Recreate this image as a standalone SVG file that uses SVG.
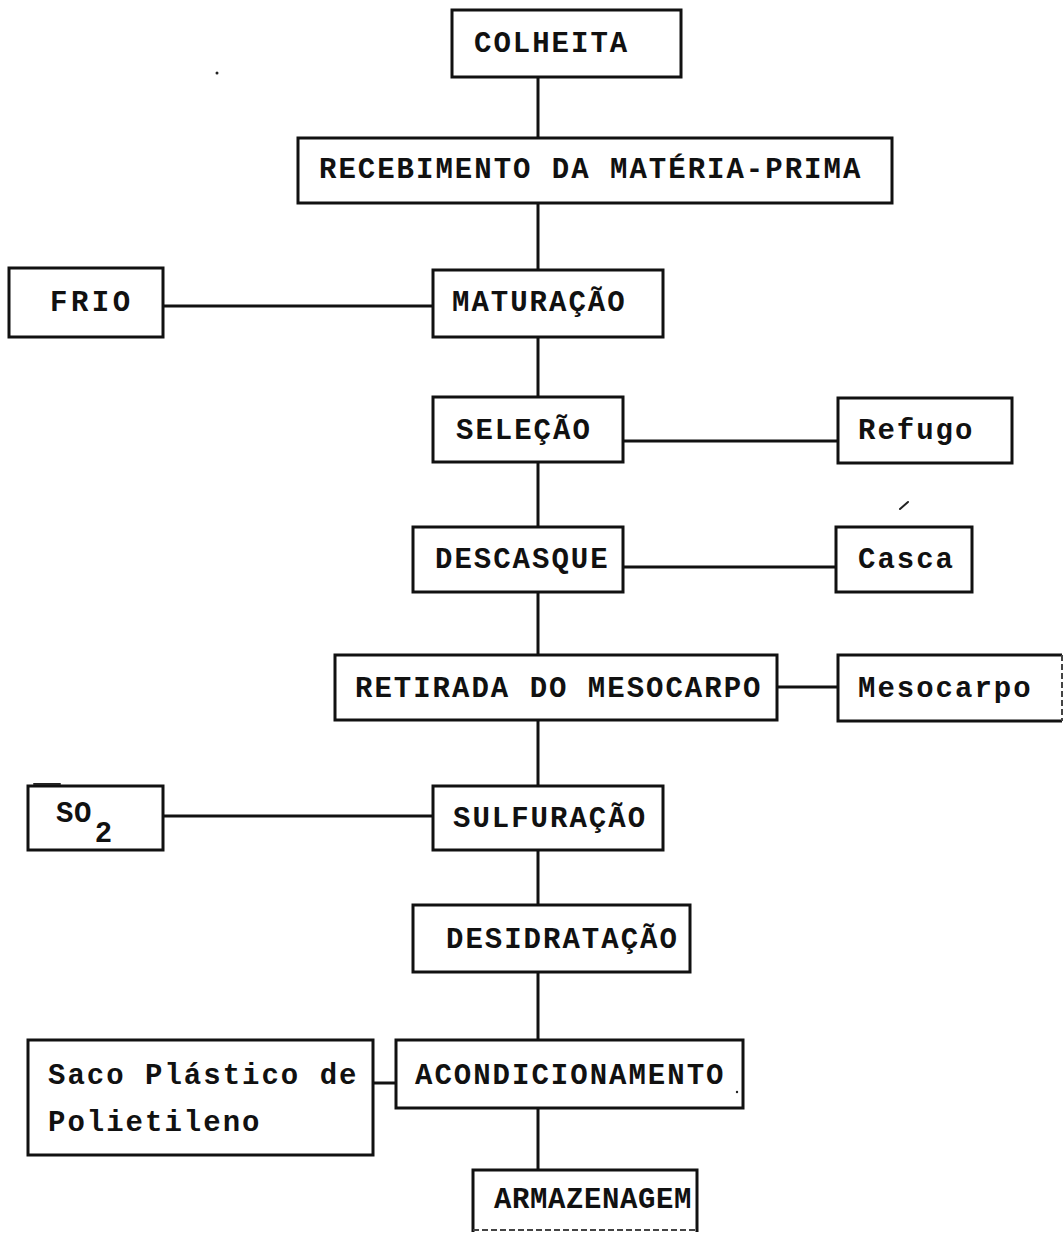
<svg xmlns="http://www.w3.org/2000/svg" width="1064" height="1234" viewBox="0 0 1064 1234">
  <style>
    .box { fill: #ffffff; stroke: #111111; stroke-width: 3; }
    .edge { fill: none; stroke: #111111; stroke-width: 3; }
    .lbl { font-family: "Liberation Mono", "DejaVu Sans Mono", monospace; font-weight: bold; font-size: 29px; letter-spacing: 2px; fill: #111111; }
    .faint { fill: none; stroke: #444444; stroke-width: 2; stroke-dasharray: 6 3; }
    .mark { fill: none; stroke: #222222; stroke-width: 2; stroke-linecap: round; }
  </style>
  <rect width="1064" height="1234" fill="#ffffff"/>

  <!-- connectors -->
  <g id="connectors">
    <path class="edge" d="M538 77 V138"/>
    <path class="edge" d="M538 203 V270"/>
    <path class="edge" d="M163 306 H433"/>
    <path class="edge" d="M538 337 V397"/>
    <path class="edge" d="M623 441 H838"/>
    <path class="edge" d="M538 462 V527"/>
    <path class="edge" d="M623 567 H836"/>
    <path class="edge" d="M538 592 V655"/>
    <path class="edge" d="M777 687 H838"/>
    <path class="edge" d="M538 720 V786"/>
    <path class="edge" d="M163 816 H433"/>
    <path class="edge" d="M538 850 V905"/>
    <path class="edge" d="M538 972 V1040"/>
    <path class="edge" d="M373 1083 H396"/>
    <path class="edge" d="M538 1108 V1170"/>
  </g>

  <g id="colheita">
    <rect class="box" x="452" y="10" width="229" height="67"/>
    <text class="lbl" x="474" y="52">COLHEITA</text>
  </g>

  <g id="recebimento">
    <rect class="box" x="298" y="138" width="594" height="65"/>
    <text class="lbl" x="319" y="178">RECEBIMENTO DA MATÉRIA-PRIMA</text>
  </g>

  <g id="frio">
    <rect class="box" x="9" y="268" width="154" height="69"/>
    <text class="lbl" x="50" y="311" style="letter-spacing:3.5px">FRIO</text>
  </g>

  <g id="maturacao">
    <rect class="box" x="433" y="270" width="230" height="67"/>
    <text class="lbl" x="452" y="311">MATURAÇÃO</text>
  </g>

  <g id="selecao">
    <rect class="box" x="433" y="397" width="190" height="65"/>
    <text class="lbl" x="456" y="439">SELEÇÃO</text>
  </g>

  <g id="refugo">
    <rect class="box" x="838" y="398" width="174" height="65"/>
    <text class="lbl" x="858" y="439">Refugo</text>
  </g>

  <g id="descasque">
    <rect class="box" x="413" y="527" width="210" height="65"/>
    <text class="lbl" x="435" y="568">DESCASQUE</text>
  </g>

  <g id="casca">
    <rect class="box" x="836" y="527" width="136" height="65"/>
    <text class="lbl" x="858" y="568">Casca</text>
  </g>

  <g id="retirada">
    <rect class="box" x="335" y="655" width="442" height="65"/>
    <text class="lbl" x="355" y="697">RETIRADA DO MESOCARPO</text>
  </g>

  <g id="mesocarpo">
    <path class="edge" d="M1062 655 H838 V721 H1062"/>
    <path class="faint" d="M1062 655 V721"/>
    <text class="lbl" x="858" y="697">Mesocarpo</text>
  </g>

  <g id="so2">
    <rect class="box" x="28" y="786" width="135" height="64"/>
    <text class="lbl" x="56" y="822" style="letter-spacing:0.5px">SO<tspan dx="3" dy="20">2</tspan></text>
  </g>

  <g id="sulfuracao">
    <rect class="box" x="433" y="786" width="230" height="64"/>
    <text class="lbl" x="453" y="827">SULFURAÇÃO</text>
  </g>

  <g id="desidratacao">
    <rect class="box" x="413" y="905" width="277" height="67"/>
    <text class="lbl" x="446" y="948">DESIDRATAÇÃO</text>
  </g>

  <g id="saco">
    <rect class="box" x="28" y="1040" width="345" height="115"/>
    <text class="lbl" x="48" y="1084">Saco Plástico de</text>
    <text class="lbl" x="48" y="1131">Polietileno</text>
  </g>

  <g id="acondicionamento">
    <rect class="box" x="396" y="1040" width="347" height="68"/>
    <text class="lbl" x="415" y="1084">ACONDICIONAMENTO</text>
  </g>

  <g id="armazenagem">
    <path class="edge" d="M473 1232 V1170 H697 V1232"/>
    <path class="faint" d="M473 1230 H697"/>
    <text class="lbl" x="494" y="1208" style="letter-spacing:0.6px">ARMAZENAGEM</text>
  </g>

  <!-- stray marks on the sheet -->
  <g id="marks">
    <path class="mark" d="M900 509 L908 502"/>
    <circle cx="217" cy="73" r="1.5" fill="#222222"/>
    <circle cx="737" cy="1092" r="1.2" fill="#222222"/>
    <path class="mark" d="M34 784 H60" stroke-width="3"/>
  </g>
</svg>
